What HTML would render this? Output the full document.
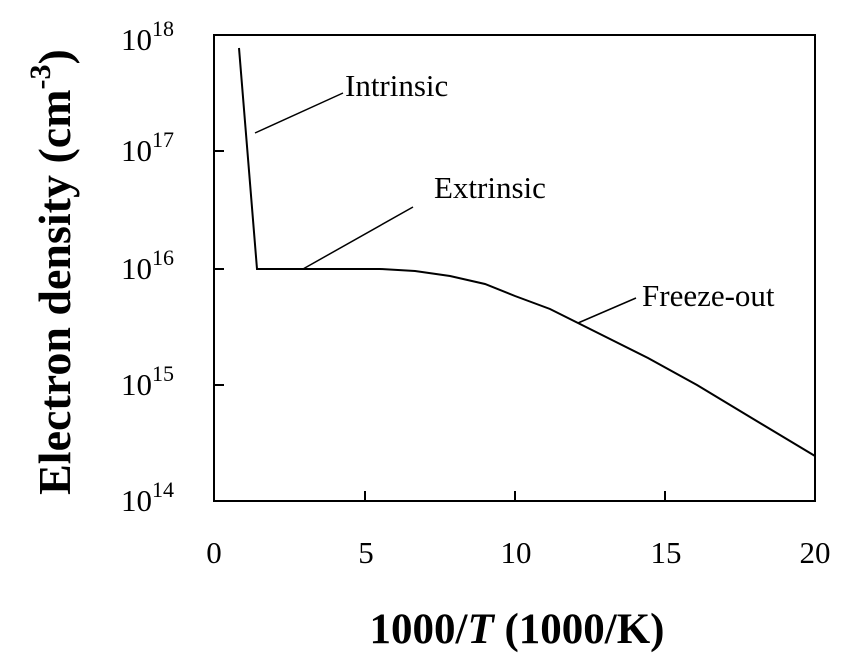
<!DOCTYPE html>
<html><head><meta charset="utf-8"><style>
html,body{margin:0;padding:0;background:#fff;}
svg{display:block;font-family:"Liberation Serif",serif;}
</style></head><body>
<svg width="865" height="672" viewBox="0 0 865 672">
<rect x="214" y="35" width="601" height="466" fill="none" stroke="#000" stroke-width="2"/>
<g stroke="#000" stroke-width="2">
<line x1="214" y1="151" x2="224" y2="151"/>
<line x1="214" y1="269" x2="224" y2="269"/>
<line x1="214" y1="385" x2="224" y2="385"/>
<line x1="365" y1="501" x2="365" y2="491"/>
<line x1="515" y1="501" x2="515" y2="491"/>
<line x1="665" y1="501" x2="665" y2="491"/>
</g>
<g font-size="31" text-anchor="end" fill="#000">
<text x="174" y="50">10<tspan font-size="22" dy="-14">18</tspan></text>
<text x="174" y="161">10<tspan font-size="22" dy="-14">17</tspan></text>
<text x="174" y="279">10<tspan font-size="22" dy="-14">16</tspan></text>
<text x="174" y="395">10<tspan font-size="22" dy="-14">15</tspan></text>
<text x="174" y="511">10<tspan font-size="22" dy="-14">14</tspan></text>
</g>
<g font-size="31" text-anchor="middle" fill="#000">
<text x="214" y="563">0</text>
<text x="366" y="563">5</text>
<text x="516" y="563">10</text>
<text x="666" y="563">15</text>
<text x="815" y="563">20</text>
</g>
<text x="517" y="643" font-size="43" font-weight="bold" text-anchor="middle">1000/<tspan font-style="italic">T</tspan> (1000/K)</text>
<text transform="translate(70,272) rotate(-90)" font-size="46" font-weight="bold" text-anchor="middle">Electron density (cm<tspan font-size="30" dy="-20">-3</tspan><tspan dy="20">)</tspan></text>
<polyline fill="none" stroke="#000" stroke-width="2" points="239,48 257,269 380,269 415,271 450,276 485,284 515,296 550,309 578,323 610,339 648,358 697,385 755,420 815,456"/>
<g stroke="#000" stroke-width="1.5">
<line x1="255" y1="133" x2="343" y2="93"/>
<line x1="303" y1="269" x2="413" y2="207"/>
<line x1="578" y1="323" x2="636" y2="298"/>
</g>
<g font-size="31" fill="#000">
<text x="345" y="96">Intrinsic</text>
<text x="434" y="198">Extrinsic</text>
<text x="642" y="306">Freeze-out</text>
</g>
</svg>
</body></html>
